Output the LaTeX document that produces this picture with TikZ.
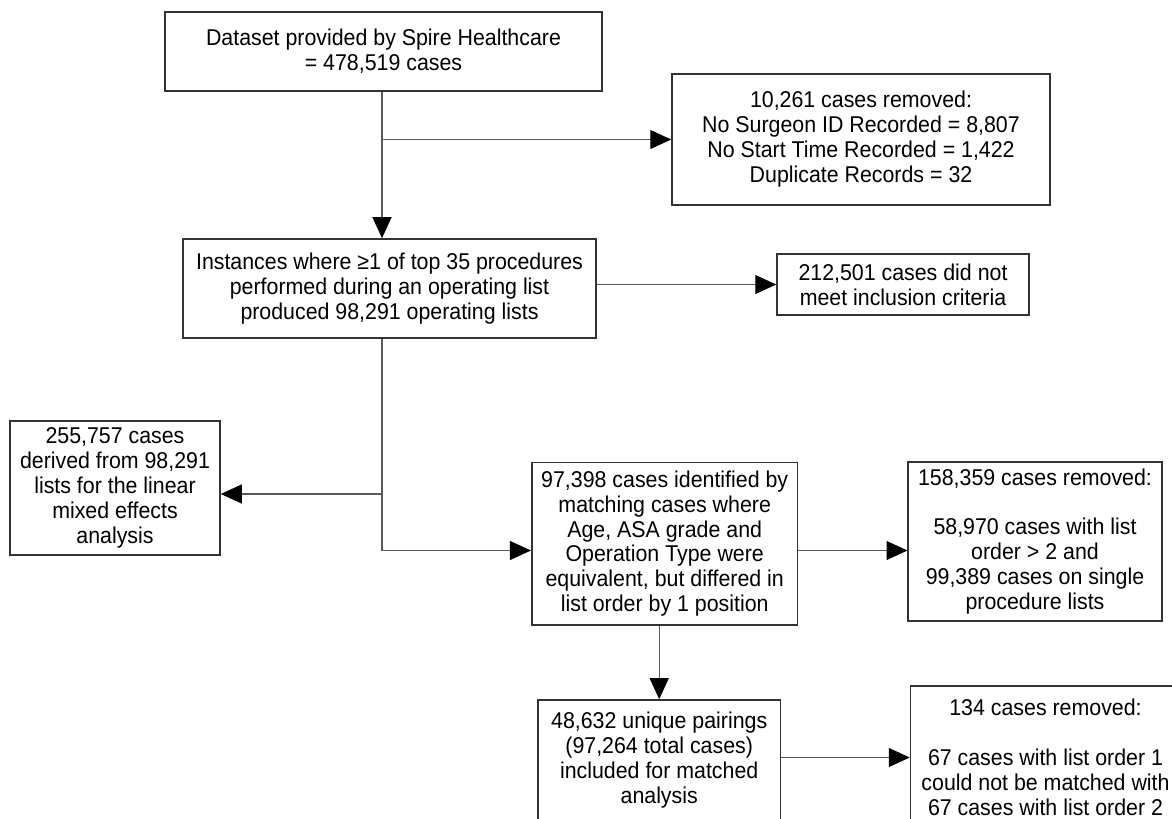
\documentclass[tikz,border=0pt]{standalone}
\usepackage{fontspec}
\setmainfont{Liberation Sans}[FakeStretch=0.935]
\usetikzlibrary{arrows.meta,positioning}

\begin{document}
\begin{tikzpicture}[x=0.02cm,y=-0.02cm,
		box/.style={draw=black!80, line width=0.9pt, inner sep=0pt, align=center, font=\fontsize{13}{14.2}\selectfont},
		link/.style={draw=black!65, line width=0.6pt},
		arr/.style={link, -{Triangle[length=0.42cm,width=0.38cm,black]}}]
		\useasboundingbox (0,0) rectangle (1172,818);
		\clip (0,0) rectangle (1172,818);
		% boxes
		\node [box, minimum width=8.74cm, minimum height=1.58cm] (data) at (383.5,51.5) {Dataset provided by Spire Healthcare\\= 478,519 cases};
		\node [box, minimum width=7.56cm, minimum height=2.62cm] (rem1) at (861,139.5) {10,261 cases removed:\\No Surgeon ID Recorded = 8,807\\No Start Time Recorded = 1,422\\Duplicate Records = 32};
		\node [box, minimum width=8.26cm, minimum height=1.98cm] (inst) at (389.5,288.5) {Instances where ≥1 of top 35 procedures\\performed during an operating list\\produced 98,291 operating lists};
		\node [box, minimum width=5.04cm, minimum height=1.22cm] (excl) at (903,284.5) {212,501 cases did not\\meet inclusion criteria};
		\node [box, minimum width=4.2cm, minimum height=2.68cm] (lmm) at (115,488) {255,757 cases\\derived from 98,291\\lists for the linear\\mixed effects\\analysis};
		\node [box, minimum width=5.32cm, minimum height=3.25cm] (match) at (664.7,543.6) {97,398 cases identified by\\matching cases where\\Age, ASA grade and\\Operation Type were\\equivalent, but differed in\\list order by 1 position};
		\node [box, minimum width=5.07cm, minimum height=3.18cm] (rem2) at (1035,541.5) {158,359 cases removed:\\[14.2pt]58,970 cases with list\\order > 2 and\\99,389 cases on single\\procedure lists};
		\node [box, minimum width=4.86cm, minimum height=2.42cm] (pairs) at (659.2,760.5) {48,632 unique pairings\\(97,264 total cases)\\included for matched\\analysis};
		\node [box, minimum width=5.4cm, minimum height=2.86cm] (rem3) at (1045.5,757.5) {134 cases removed:\\[14.2pt]67 cases with list order 1\\could not be matched with\\67 cases with list order 2};
		% connectors
		\coordinate (trunk) at (382,0);
		\coordinate (split) at (382,494);
		\coordinate (bend) at (382,550.5);
		\draw [arr] (data.south -| trunk) -- (inst.north -| trunk);
		\draw [arr] (trunk |- rem1.west) -- (rem1.west);
		\draw [arr] (excl.west -| inst.east) -- (excl.west);
		\draw [link] (inst.south -| trunk) -- (bend);
		\draw [arr] (split) -- (split -| lmm.east);
		\draw [arr] (bend) -- (bend -| match.west);
		\draw [arr] (bend -| match.east) -- (bend -| rem2.west);
		\draw [arr] (match.south -| pairs.north) -- (pairs.north);
		\draw [arr] (rem3.west -| pairs.east) -- (rem3.west);
	\end{tikzpicture}
\end{document}
